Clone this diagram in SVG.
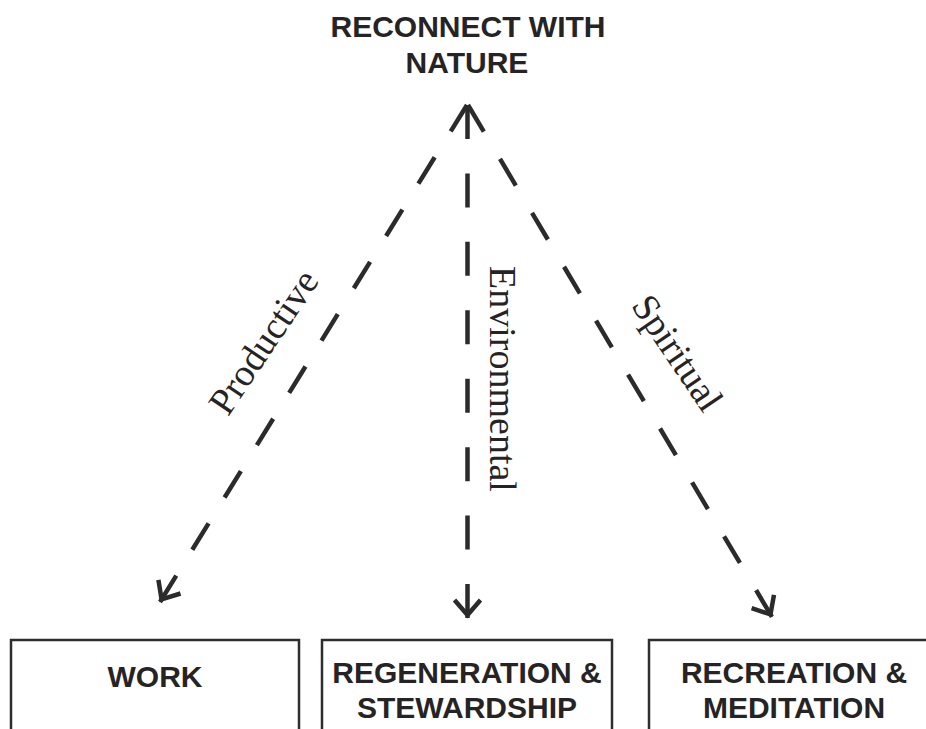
<svg xmlns="http://www.w3.org/2000/svg" width="926" height="729" viewBox="0 0 926 729">
  <style>
    .head { font-family: "Liberation Sans", Arial, sans-serif; font-weight: bold; font-size: 30px; fill: #262324; text-anchor: middle; }
    .lbl { font-family: "Liberation Serif", "Times New Roman", serif; font-size: 38px; fill: #262324; text-anchor: middle; }
    .box { fill: #ffffff; stroke: #2e2e2e; stroke-width: 2.5; }
    .conn { fill: none; stroke: #2b2b2b; stroke-width: 4.5; stroke-linecap: butt; }
  </style>
  <defs>
    <marker id="arrow" markerUnits="userSpaceOnUse" orient="auto" markerWidth="40" markerHeight="40" refX="3" refY="0" viewBox="-30 -20 40 40" overflow="visible">
      <path d="M-15,-13 L0,0 L-15,13" fill="none" stroke="#2b2b2b" stroke-width="4.5" stroke-linejoin="miter"/>
    </marker>
  </defs>
  <rect width="926" height="729" fill="#ffffff"/>

  <g id="node-top">
    <text class="head" x="468" y="37">RECONNECT WITH</text>
    <text class="head" x="467" y="73">NATURE</text>
  </g>

  <g id="connectors">
    <line class="conn" x1="467" y1="105" x2="160" y2="602" stroke-dasharray="31 30.47" marker-end="url(#arrow)"/>
    <line class="conn" x1="467.5" y1="105" x2="467.5" y2="618" stroke-dasharray="34 34.43" marker-end="url(#arrow)"/>
    <line class="conn" x1="468" y1="105" x2="772" y2="617" stroke-dasharray="31 31.7" marker-end="url(#arrow)"/>
  </g>

  <g id="labels">
    <text class="lbl" transform="translate(274,349) rotate(-56)">Productive</text>
    <text class="lbl" transform="translate(490,379) rotate(90)">Environmental</text>
    <text class="lbl" transform="translate(667,360) rotate(56)">Spiritual</text>
  </g>

  <g id="node-work">
    <rect class="box" x="11" y="640" width="288" height="120"/>
    <text class="head" x="155" y="687">WORK</text>
  </g>
  <g id="node-regeneration">
    <rect class="box" x="322" y="640" width="290" height="120"/>
    <text class="head" x="467" y="683">REGENERATION &amp;</text>
    <text class="head" x="467" y="718">STEWARDSHIP</text>
  </g>
  <g id="node-recreation">
    <rect class="box" x="649" y="640" width="290" height="120"/>
    <text class="head" x="794" y="683">RECREATION &amp;</text>
    <text class="head" x="794" y="718">MEDITATION</text>
  </g>
</svg>
